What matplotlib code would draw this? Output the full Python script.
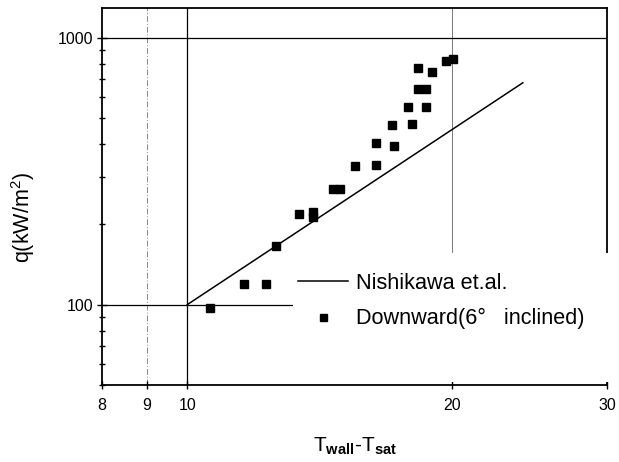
import matplotlib
matplotlib.use("Agg")
import matplotlib.pyplot as plt
from matplotlib.ticker import FixedLocator, FixedFormatter, NullLocator, NullFormatter, LogLocator
from matplotlib.patches import Rectangle

plt.rcParams['font.family'] = ['Liberation Sans', 'DejaVu Sans']
plt.rcParams['mathtext.fontset'] = 'custom'
plt.rcParams['mathtext.rm'] = 'Liberation Sans'
plt.rcParams['mathtext.it'] = 'Liberation Sans'
plt.rcParams['mathtext.bf'] = 'Liberation Sans:bold'

# Data
dT_exp = [10.6, 11.6, 12.3, 12.6, 13.4, 13.9, 13.9, 14.65, 14.9, 15.5, 16.4, 16.4,
          17.2, 17.1, 18.0, 17.8, 18.7, 18.3, 18.7, 18.3, 19.0, 19.7, 20.05]
q_exp = [97, 120, 120, 166, 218, 222, 213, 270, 270, 331, 333, 402,
         394, 469, 473, 551, 548, 642, 642, 768, 745, 820, 832]
dT_fit = [10, 24.07]
q_fit = [100, 678]

x_ticks = [8, 9, 10, 20, 30]
x_ticklabels = ['8', '9', '10', '20', '30']
y_ticks = [100, 1000]
y_ticklabels = ['100', '1000']

fig = plt.figure(figsize=(6.19, 4.62), dpi=100)
ax = fig.add_axes([102/619, 1 - 385/462, (607-102)/619, (385-8)/462])
ax.set_xscale('log')
ax.set_yscale('log')
ax.set_xlim(8, 30)
ax.set_ylim(50, 1292)

# grid-like reference lines
ax.axvline(9, color='#888888', lw=0.7, ls=(0, (6, 2, 1, 2)), zorder=1)
ax.axvline(10, color='black', lw=0.9, zorder=1)
ax.axvline(20, color='#777777', lw=0.7, zorder=1)
ax.axhline(1000, color='black', lw=0.9, zorder=1)
ax.axhline(100, color='black', lw=0.9, zorder=1)

ln, = ax.plot(dT_fit, q_fit, color='black', lw=1.1, zorder=3)
pts, = ax.plot(dT_exp, q_exp, ls='none', marker='s', ms=6.3, color='black', zorder=3)

# white area behind legend
ax.add_patch(Rectangle((0.378, 0.008), 0.64, 0.342, transform=ax.transAxes,
                       facecolor='white', edgecolor='none', clip_on=False, zorder=4))

leg = ax.legend([ln, pts], ['Nishikawa et.al.', 'Downward(6°   inclined)'],
                loc='upper left', bbox_to_anchor=(0.388, 0.298), bbox_transform=ax.transAxes,
                frameon=False, fontsize=15.6, borderpad=0, borderaxespad=0,
                handlelength=2.3, handletextpad=0.4, labelspacing=0.67,
                markerscale=0.8)
leg.set_zorder(5)

for s in ax.spines.values():
    s.set_linewidth(1.3)

ax.xaxis.set_major_locator(FixedLocator(x_ticks))
ax.xaxis.set_major_formatter(FixedFormatter(x_ticklabels))
ax.xaxis.set_minor_locator(NullLocator())
ax.yaxis.set_major_locator(FixedLocator(y_ticks))
ax.yaxis.set_major_formatter(FixedFormatter(y_ticklabels))
ax.yaxis.set_minor_locator(LogLocator(base=10, subs=range(2, 10)))
ax.yaxis.set_minor_formatter(NullFormatter())

ax.tick_params(axis='x', which='major', direction='inout', length=6, width=1, pad=6, labelsize=11.5)
ax.tick_params(axis='y', which='major', direction='inout', length=7, width=1, pad=3, labelsize=11.5)
ax.tick_params(axis='y', which='minor', direction='inout', length=4, width=1)

ax.set_xlabel(r'T$_{\mathbf{wall}}$-T$_{\mathbf{sat}}$', fontsize=15)
ax.xaxis.set_label_coords(0.5, -0.135)
ax.set_ylabel(r'q(kW/m$^{2}$)', fontsize=15.5)
ax.yaxis.set_label_coords(-0.128, 0.443)

fig.savefig('out.png', dpi=100)
